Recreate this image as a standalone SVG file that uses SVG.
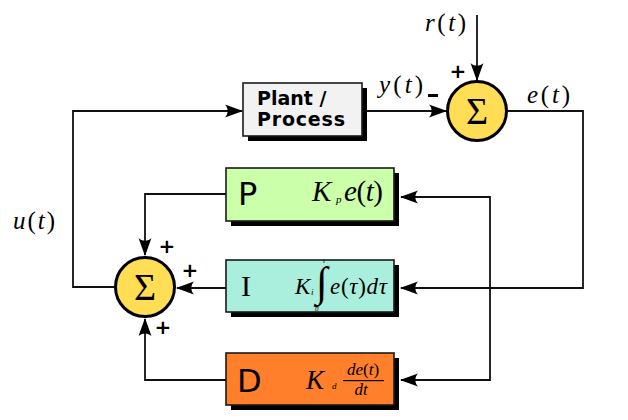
<svg xmlns="http://www.w3.org/2000/svg" width="628" height="420" viewBox="0 0 628 420">
<defs>
<style>
.box{stroke:#1a1a1a;stroke-width:1.6}
.shadow{fill:#000}
.sum{fill:#ffdd55;stroke:#000;stroke-width:3}
.conn{fill:none;stroke:#111;stroke-width:1.8}
.math{font-family:"Liberation Serif","Times New Roman",serif;fill:#000}
.it{font-style:italic}
.sign{font-family:"DejaVu Sans",sans-serif;font-weight:bold;font-size:20px;text-anchor:middle;fill:#000}
.sigma{font-family:"Liberation Serif",serif;font-size:38px;text-anchor:middle;fill:#000}
.big{font-family:"DejaVu Sans",sans-serif;font-size:32px;fill:#000}
.plant{font-family:"DejaVu Sans",sans-serif;font-weight:bold;font-size:19px;fill:#000}
.roman{font-family:"Liberation Serif","DejaVu Serif",serif;font-size:30px;fill:#000}
</style>
<marker id="arr" viewBox="0 0 18 14" refX="17" refY="7" markerWidth="18" markerHeight="14" markerUnits="userSpaceOnUse" orient="auto-start-reverse">
<path d="M18,7 L0,0.5 C3.5,4 3.5,10 0,13.5 Z" fill="#000"/>
</marker>
</defs>
<rect width="628" height="420" fill="#fff"/>

<g id="connectors">
<path class="conn" d="M362,111 H446" marker-end="url(#arr)"/>
<path class="conn" d="M477,15 V80" marker-end="url(#arr)"/>
<path class="conn" d="M508,111 H583 V288 H401" marker-end="url(#arr)"/>
<path class="conn" d="M401,197 H490 V380 H401" marker-start="url(#arr)" marker-end="url(#arr)"/>
<path class="conn" d="M226,194 H145 V255" marker-end="url(#arr)"/>
<path class="conn" d="M226,288 H177" marker-end="url(#arr)"/>
<path class="conn" d="M226,380 H145 V319" marker-end="url(#arr)"/>
<path class="conn" d="M114,287 H73 V111 H242" marker-end="url(#arr)"/>
</g>

<g id="labels">
<text class="math" x="425" y="31" font-size="25" textLength="41"><tspan class="it">r</tspan>(<tspan class="it">t</tspan>)</text>
<text class="math" x="379" y="93" font-size="25" textLength="44"><tspan class="it">y</tspan>(<tspan class="it">t</tspan>)</text>
<text class="math" x="527" y="103" font-size="25" textLength="43"><tspan class="it">e</tspan>(<tspan class="it">t</tspan>)</text>
<text class="math" x="13" y="229" font-size="25" textLength="42"><tspan class="it">u</tspan>(<tspan class="it">t</tspan>)</text>
<text class="sign" x="458" y="78">+</text>
<rect x="428" y="94" width="10" height="3" fill="#000"/>
<text class="sign" x="167" y="253">+</text>
<text class="sign" x="190" y="277">+</text>
<text class="sign" x="163" y="334">+</text>
</g>

<g id="plant">
<rect class="shadow" x="248" y="88" width="119" height="53"/>
<rect class="box" x="243" y="83" width="119" height="53" fill="#f2f2f2"/>
<text class="plant" x="257" y="105">Plant /</text>
<text class="plant" x="257" y="126" textLength="88">Process</text>
</g>

<g id="sum-error">
<circle class="sum" cx="477" cy="111" r="29.5"/>
<text class="sigma" x="477" y="124">Σ</text>
</g>

<g id="sum-output">
<circle class="sum" cx="145" cy="287" r="29.5"/>
<text class="sigma" x="145" y="300">Σ</text>
</g>

<g id="p-term">
<rect class="shadow" x="231" y="173" width="168" height="53"/>
<rect class="box" x="226" y="168" width="168" height="53" fill="#ccffaa"/>
<text class="big" x="238" y="205">P</text>
<text class="math it" x="312" y="201" font-size="29">K</text>
<text class="math it" x="336" y="203" font-size="11">p</text>
<text class="math" x="344" y="201" font-size="29" textLength="39"><tspan class="it">e</tspan>(<tspan class="it">t</tspan>)</text>
</g>

<g id="i-term">
<rect class="shadow" x="231" y="265" width="168" height="52"/>
<rect class="box" x="226" y="260" width="168" height="52" fill="#aaeedd"/>
<text class="roman" x="241" y="296">I</text>
<text class="math it" x="295" y="294" font-size="23">K</text>
<text class="math it" x="311" y="295" font-size="9">i</text>
<text class="math" x="316" y="296" font-size="42">∫</text>
<text class="math it" x="323" y="263" font-size="7">t</text>
<text class="math it" x="315" y="311" font-size="7">0</text>
<text class="math" x="330" y="294" font-size="23" textLength="57"><tspan class="it">e</tspan>(<tspan class="it">τ</tspan>)<tspan class="it">dτ</tspan></text>
</g>

<g id="d-term">
<rect class="shadow" x="231" y="358" width="168" height="52"/>
<rect class="box" x="226" y="353" width="168" height="52" fill="#ff7f2a"/>
<text class="big" x="237" y="392">D</text>
<text class="math it" x="306" y="389" font-size="27">K</text>
<text class="math it" x="332" y="389" font-size="9">d</text>
<text class="math" x="363" y="375" font-size="17" text-anchor="middle"><tspan class="it">de</tspan>(<tspan class="it">t</tspan>)</text>
<rect x="343" y="380" width="41" height="1.2" fill="#000"/>
<text class="math it" x="361" y="395" font-size="17" text-anchor="middle">dt</text>
</g>
</svg>
